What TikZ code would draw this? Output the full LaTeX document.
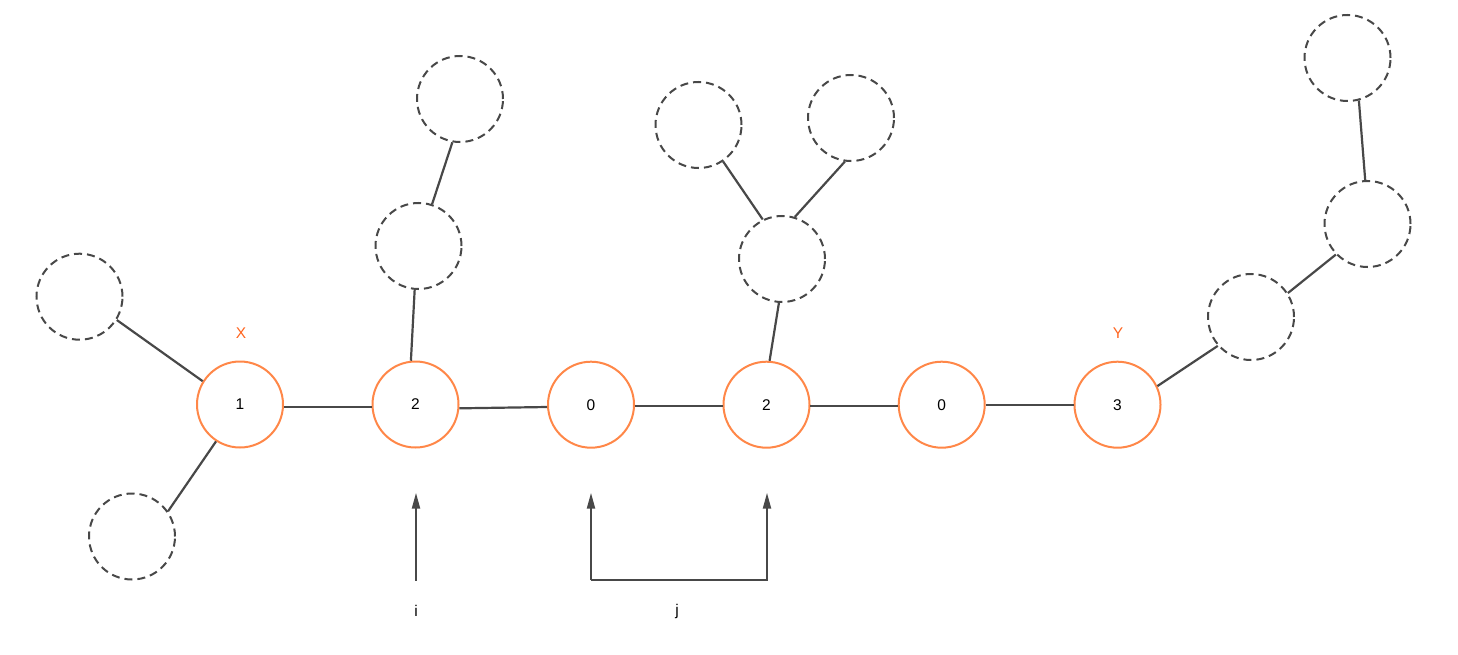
\documentclass[tikz,border=0pt]{standalone}
\usepackage{fontspec}
\setmainfont{Liberation Sans}
\usetikzlibrary{arrows.meta}
\definecolor{lineg}{RGB}{72,72,72}
\definecolor{orng}{RGB}{255,135,72}
\definecolor{lblorng}{RGB}{255,100,30}
\tikzset{
  keynode/.style={circle, draw=orng, line width=2pt, minimum size=86pt, inner sep=0pt, font=\fontsize{15.5}{18}\selectfont},
  ghost/.style={circle, draw=lineg, line width=2pt, minimum size=86pt, inner sep=0pt, dash pattern=on 8pt off 5pt},
  edge/.style={draw=lineg, line width=2.2pt},
  pointer/.style={draw=lineg, line width=2.2pt, -{Triangle[length=16pt,width=8pt]}},
  lbl/.style={text=lblorng, font=\fontsize{15.5}{18}\selectfont},
  txt/.style={font=\fontsize{15.5}{18}\selectfont}
}
\begin{document}
\begin{tikzpicture}[x=1pt,y=-1pt]
\useasboundingbox (0,0) rectangle (1458,655);
% main chain
\node[keynode] (n1) at (240,404.5) {1};
\node[keynode] (n2) at (415.5,404.5) {2};
\node[keynode] (n3) at (591,404.7) {0};
\node[keynode] (n4) at (766.5,404.7) {2};
\node[keynode] (n5) at (941.7,404.7) {0};
\node[keynode] (n6) at (1117.5,404.7) {3};
% dashed subtrees
\node[ghost] (d1) at (79.5,296.7) {};
\node[ghost] (d2) at (132,536.5) {};
\node[ghost] (d3) at (418.5,246) {};
\node[ghost] (d4) at (460,99) {};
\node[ghost] (d5) at (698.5,125) {};
\node[ghost] (d6) at (851,118) {};
\node[ghost] (d7) at (782,259) {};
\node[ghost] (d8) at (1251,317) {};
\node[ghost] (d9) at (1367.5,224) {};
\node[ghost] (d10) at (1347.5,58) {};
% labels
\node[lbl] (lx) at (241,333) {X};
\node[lbl] (ly) at (1118,333) {Y};
\node[txt] (li) at (416,611) {i};
\node[txt] (lj) at (677,611) {j};
% chain edges
\draw[edge] (n1.-3.3) -- (n2.183.3);
\draw[edge] (n2.-5.5) -- (n3.183);
\draw[edge] (n3.-2.6) -- (n4.182.6);
\draw[edge] (n4.-2.6) -- (n5.182.6);
\draw[edge] (n5.0) -- (n6.180);
% subtree edges
\draw[edge] (d1.-32) -- (n1.148);
\draw[edge] (d2.35) -- (n1.237);
\draw[edge] (n2.96) -- (d3.265);
\draw[edge] (d3.72) -- (d4.260);
\draw[edge] (n4.86) -- (d7.266);
\draw[edge] (d7.116) -- (d5.-56);
\draw[edge] (d7.73) -- (d6.262);
\draw[edge] (n6.25) -- (d8.221);
\draw[edge] (d8.33) -- (d9.224);
\draw[edge] (d9.93) -- (d10.-75);
% pointers
\coordinate (ib) at (416,580.5);
\coordinate (it) at (416,492.7);
\coordinate (jl) at (591,492.7);
\coordinate (jr) at (767,492.7);
\coordinate (jlb) at (591,580);
\coordinate (jrb) at (767,580);
\draw[pointer] (ib) -- (it);
\draw[pointer] (jlb) -- (jl);
\draw[pointer, line join=miter] (jlb) -- (jrb) -- (jr);
\end{tikzpicture}
\end{document}
